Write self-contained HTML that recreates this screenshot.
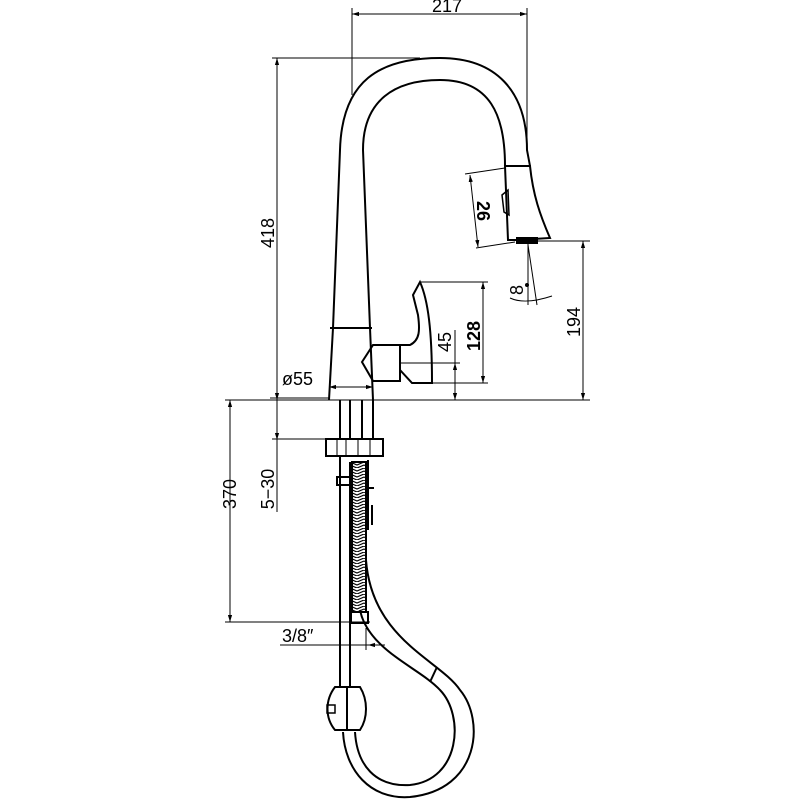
<!DOCTYPE html>
<html><head><meta charset="utf-8"><style>html,body{margin:0;padding:0;background:#fff}svg{display:block}</style></head>
<body>
<svg width="800" height="800" viewBox="0 0 800 800" xmlns="http://www.w3.org/2000/svg" font-family="Liberation Sans, sans-serif">
<defs>
<marker id="a" viewBox="0 0 10 10" refX="10" refY="5" markerWidth="7" markerHeight="7" orient="auto-start-reverse"><path d="M0,2 L10,5 L0,8 z" fill="#000"/></marker>
<pattern id="br" width="14" height="6" patternUnits="userSpaceOnUse"><path d="M0,0 L7,3 L14,0 M0,3 L7,6 L14,3" stroke="#000" stroke-width="1.2" fill="none"/></pattern>
</defs>
<g fill="none" stroke="#000" stroke-width="1">
<line x1="352" y1="8" x2="352" y2="95"/>
<line x1="527" y1="8" x2="527" y2="150"/>
<line x1="352" y1="14" x2="527" y2="14" marker-start="url(#a)" marker-end="url(#a)"/>
<line x1="272" y1="58" x2="420" y2="58"/>
<line x1="277" y1="58" x2="277" y2="400" marker-start="url(#a)" marker-end="url(#a)"/>
<line x1="270" y1="400" x2="590" y2="400"/>
<line x1="420" y1="282" x2="488" y2="282"/>
<line x1="483" y1="282" x2="483" y2="383" marker-start="url(#a)" marker-end="url(#a)"/>
<line x1="430" y1="383" x2="488" y2="383"/>
<line x1="400" y1="363" x2="460" y2="363"/>
<line x1="455" y1="330" x2="455" y2="363"/>
<line x1="455" y1="363" x2="455" y2="400" marker-start="url(#a)" marker-end="url(#a)"/>
<line x1="530" y1="241" x2="590" y2="241"/>
<line x1="583" y1="241" x2="583" y2="400" marker-start="url(#a)" marker-end="url(#a)"/>
<line x1="465" y1="174" x2="505" y2="168"/>
<line x1="476" y1="248" x2="515" y2="242"/>
<line x1="470" y1="175" x2="478" y2="247" marker-start="url(#a)" marker-end="url(#a)"/>
<line x1="528" y1="243" x2="528" y2="305"/>
<line x1="528" y1="245" x2="537" y2="305"/>
<path d="M510,298 Q525,305 552,296" />
<line x1="329" y1="387" x2="373" y2="387" marker-start="url(#a)" marker-end="url(#a)"/>
<line x1="270" y1="398" x2="329" y2="398"/>
<line x1="225" y1="400" x2="330" y2="400"/>
<line x1="230" y1="400" x2="230" y2="622" marker-start="url(#a)" marker-end="url(#a)"/>
<line x1="225" y1="622" x2="370" y2="622"/>
<line x1="277" y1="400" x2="277" y2="440" marker-end="url(#a)"/>
<line x1="272" y1="439" x2="330" y2="439"/>
<line x1="277" y1="440" x2="277" y2="512"/>
<line x1="280" y1="645" x2="385" y2="645"/>
<line x1="350" y1="628" x2="350" y2="650"/>
<line x1="366" y1="628" x2="366" y2="650"/>
<line x1="368" y1="645" x2="385" y2="645" marker-start="url(#a)"/>
</g>
<g fill="none" stroke="#000" stroke-width="2">
<path d="M333,328 L340,150 C342,80 380,58 440,58 C495,58 527,90 527,150 L530,166"/>
<path d="M370,328 L363,150 C363,100 395,80 440,80 C490,80 505,115 505,166"/>
<line x1="330" y1="328" x2="372" y2="328"/>
<path d="M505,166 L530,166 C533,195 540,215 550,238 L517,240 L508,240 L505,166 Z"/>
<rect x="517" y="238" width="20" height="5" fill="#000"/>
<path d="M502,195 L508,190 L509,215 L504,212 Z" stroke-width="1.5"/>
<path d="M333,328 L329,400 M370,328 L373,400"/>
<path d="M373,345 L400,345 L400,381 L373,381 L362,362 Z"/>
<path d="M400,345 L410,345 C420,340 420,330 418,315 L413,295 L420,282 C428,300 432,330 432,383 L412,383 L400,370"/>
<path d="M340,400 L340,439 M373,400 L373,439 M350,400 L350,439 M362,400 L362,439"/>
<rect x="326" y="439" width="57" height="17"/>
<path d="M337,439 L337,456 M346,439 L346,456 M358,439 L358,456 M370,439 L370,456" stroke-width="1"/>
<path d="M340,456 L340,687 M350,462 L350,687"/>
<rect x="352" y="462" width="14" height="150" fill="url(#br)"/>
<rect x="351" y="612" width="17" height="11"/>
<rect x="337" y="477" width="14" height="8"/>
<path d="M368,460 L368,530 M372,505 L372,525 M368,488 L374,488"/>
<path d="M366,560 C372,640 440,660 460,690 C485,720 480,790 410,797 C370,800 345,770 343,732"/>
<path d="M360,610 C368,650 420,668 440,690 C465,716 460,780 410,785 C375,787 357,765 355,732"/>
<line x1="437" y1="667" x2="430" y2="682"/>
<path d="M335,687 L360,687 C368,700 368,718 360,730 L335,730 C325,718 325,700 335,687 Z"/>
<line x1="347" y1="687" x2="347" y2="730"/>
<rect x="327" y="705" width="8" height="8" stroke-width="1.5"/>
</g>
<circle cx="527" cy="285" r="2" fill="#000"/>
<g fill="#000" font-size="18">
<text x="447" y="12" text-anchor="middle">217</text>
<text transform="translate(274,233) rotate(-90)" text-anchor="middle">418</text>
<text transform="translate(477,211) rotate(90)" text-anchor="middle" font-weight="bold">26</text>
<text transform="translate(523,290) rotate(-90)" text-anchor="middle">8</text>
<text transform="translate(451,342) rotate(-90)" text-anchor="middle">45</text>
<text transform="translate(480,336) rotate(-90)" text-anchor="middle" font-weight="bold">128</text>
<text transform="translate(580,322) rotate(-90)" text-anchor="middle">194</text>
<text x="282" y="385">ø55</text>
<text transform="translate(236,494) rotate(-90)" text-anchor="middle">370</text>
<text transform="translate(274,489) rotate(-90)" text-anchor="middle">5−30</text>
<text x="282" y="642">3/8″</text>
</g>
</svg>
</body></html>
